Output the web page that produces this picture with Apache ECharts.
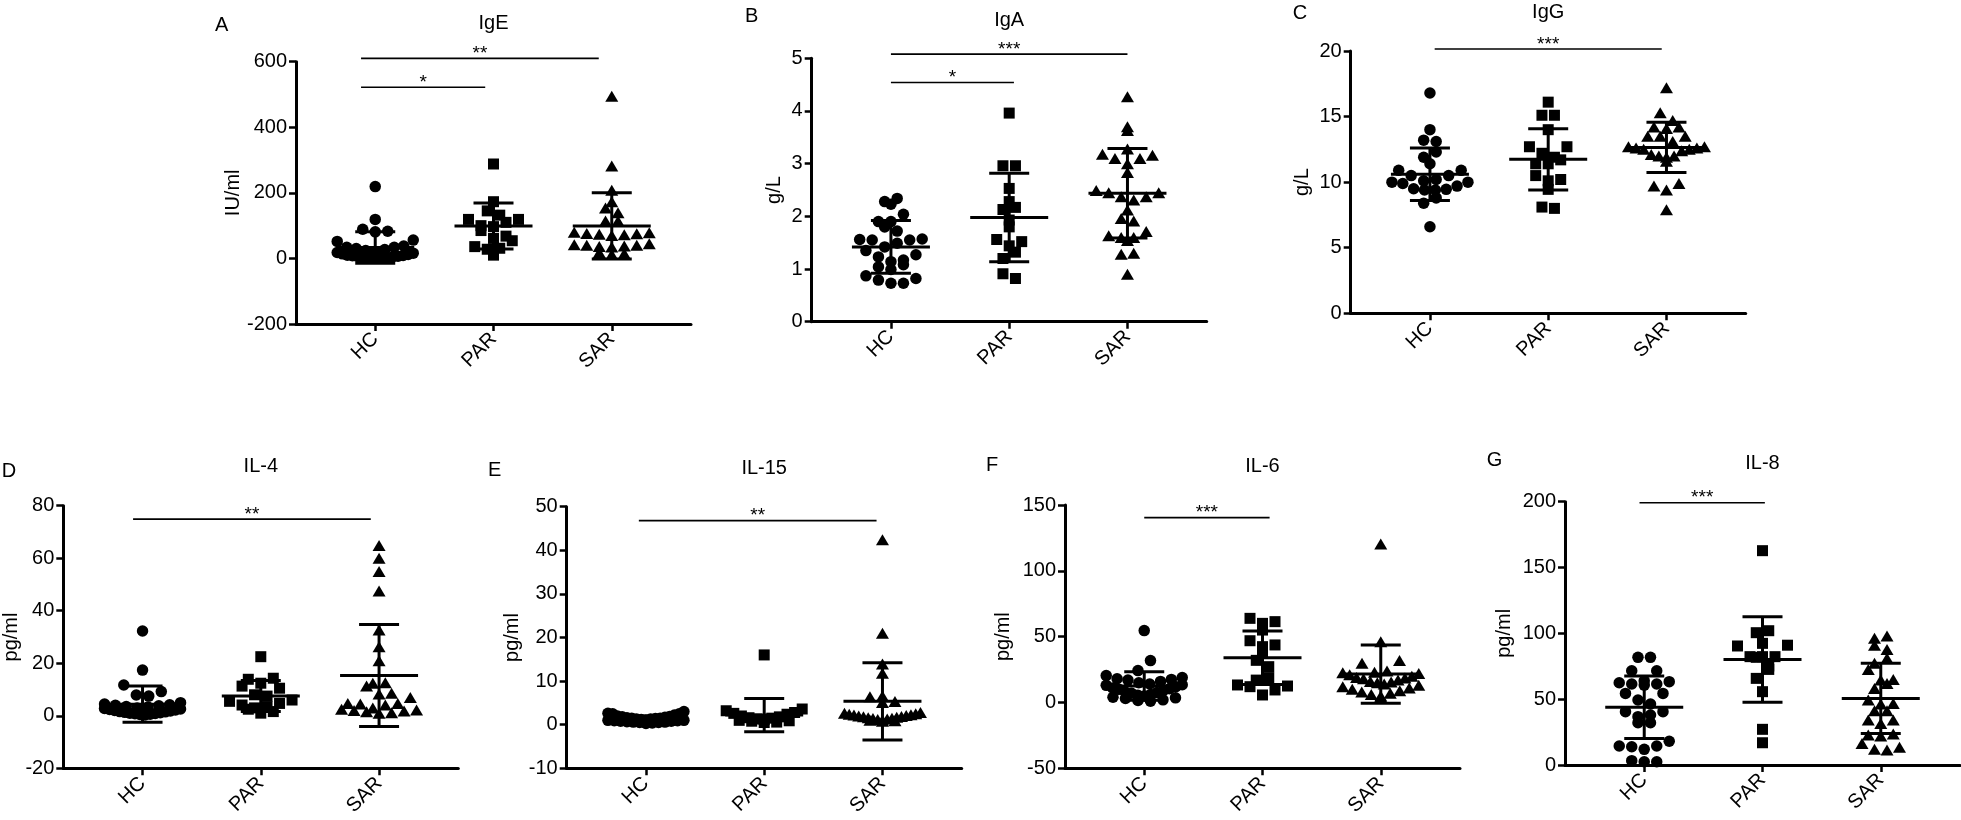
<!DOCTYPE html>
<html>
<head>
<meta charset="utf-8">
<title>Serum immunoglobulins and cytokines</title>
<script src="https://cdn.jsdelivr.net/npm/echarts@6/dist/echarts.min.js"></script>
<style>
  html, body { margin: 0; padding: 0; background: #fff; }
  #chart { width: 1961px; height: 820px; }
</style>
</head>
<body>
<div id="chart"></div>
<script>
// values
const groups = ["HC", "PAR", "SAR"];

const igeHC = [219, 119, 89, 83, 81, 56, 52, 34, 38, 34, 30, 27, 24, 21, 18, 16, 14, 12, 10, 9, 8, 7, 6, 5, 4, 3, 3, 2, 1, 1];
const igePAR = [288, 173, 145, 132, 119, 119, 110, 100, 97, 85, 68, 61, 54, 36, 31, 28, 10];
const igeSAR = [495, 282, 208, 173, 154, 139, 114, 114, 80, 78, 76, 75, 74, 72, 70, 45, 42, 40, 40, 38, 36, 35, 18, 15, 12];
const igeMean = [33, 99, 99];
const igeSD = [48, 70, 101];
const igeSig = [[0.88, 2.89, 610, "**"], [0.88, 1.93, 522, "*"]];

const igaHC = [2.34, 2.28, 2.23, 2.04, 1.90, 1.90, 1.80, 1.72, 1.57, 1.56, 1.55, 1.55, 1.49, 1.42, 1.35, 1.27, 1.23, 1.17, 1.14, 1.08, 1.04, 0.99, 0.87, 0.82, 0.79, 0.73, 0.73];
const igaPAR = [3.96, 2.96, 2.96, 2.53, 2.28, 2.17, 2.13, 1.93, 1.80, 1.56, 1.52, 1.44, 1.32, 1.20, 0.91, 0.82];
const igaSAR = [4.27, 3.70, 3.63, 3.28, 3.18, 3.16, 3.10, 3.10, 3.00, 2.83, 2.49, 2.45, 2.45, 2.37, 2.37, 2.31, 2.12, 1.96, 1.91, 1.71, 1.63, 1.60, 1.60, 1.54, 1.30, 1.28, 0.90];
const igaMean = [1.42, 1.98, 2.44];
const igaSD = [0.50, 0.84, 0.85];
const igaSig = [[1.0, 3.0, 5.08, "***"], [1.0, 2.04, 4.54, "*"]];

const iggHC = [16.8, 14.0, 13.2, 13.1, 12.3, 11.9, 11.4, 10.9, 10.9, 10.5, 10.5, 10.2, 10.1, 10.0, 10.0, 9.9, 9.7, 9.5, 9.45, 9.4, 9.4, 8.8, 8.4, 6.6];
const iggPAR = [16.1, 15.1, 15.1, 14.0, 12.7, 12.7, 12.2, 11.9, 11.7, 11.4, 11.4, 10.5, 10.2, 10.1, 9.45, 8.1, 8.0];
const iggSAR = [17.2, 15.3, 14.7, 14.2, 14.2, 14.1, 13.5, 13.5, 13.5, 13.1, 12.7, 12.7, 12.6, 12.6, 12.5, 12.5, 12.4, 12.1, 12.0, 12.0, 11.9, 11.6, 9.9, 9.7, 9.4, 7.9];
const iggMean = [10.6, 11.74, 12.65];
const iggSD = [2.0, 2.34, 1.92];
const iggSig = [[1.04, 2.96, 20.15, "***"]];

const il4HC = [32.3, 17.4, 11.7, 9.2, 7.9, 7.5, 5, 4.5, 4.2, 4, 3.8, 3.5, 3.3, 3, 2.8, 2.6, 2.4, 2.2, 2, 1.8, 1.6, 1.5, 1.3, 1.2, 1, 0.9, 0.8, 0.6, 0.5, 0.3];
const il4PAR = [22.5, 14.3, 13.9, 12.4, 11.3, 10.5, 8, 7.5, 6, 5.5, 4.7, 4.1, 3.5, 3, 2.5, 1.6, 1.0];
const il4SAR = [64.8, 60, 54.9, 47.5, 32.7, 26.3, 21, 12.6, 12.4, 11.3, 8.6, 8.3, 7, 4.7, 4.7, 4.5, 4.1, 3, 2.5, 2.2, 2, 1.8, 1.5, 1.2, 1];
const il4Mean = [4.4, 7.5, 15.35];
const il4SD = [6.9, 5.9, 19.45];
const il4Sig = [[0.92, 2.93, 74.9, "**"]];

const il15HC = [3.0, 2.6, 2.5, 2.5, 2.2, 2.0, 1.9, 1.8, 1.7, 1.6, 1.5, 1.5, 1.4, 1.3, 1.3, 1.2, 1.1, 1.0, 1.0, 0.9, 0.9, 0.8, 0.8, 0.7, 0.6, 0.6, 0.5, 0.5, 0.4, 0.3];
const il15PAR = [16.0, 3.6, 3.2, 2.8, 2.6, 2.4, 2.0, 1.8, 1.6, 1.5, 1.3, 1.2, 1.0, 0.9, 0.8, 0.6, 0.5];
const il15SAR = [42.4, 21.0, 13.9, 11.8, 6.6, 6.4, 5.3, 5.1, 2.8, 2.6, 2.5, 2.4, 2.3, 2.2, 2.1, 2.0, 1.9, 1.8, 1.7, 1.6, 1.5, 1.4, 1.3, 1.2, 1.1, 1.0, 0.9, 0.8];
const il15Mean = [1.3, 2.2, 5.35];
const il15SD = [0.7, 3.8, 8.85];
const il15Sig = [[0.94, 2.95, 46.8, "**"]];

const il6HC = [54.6, 31.8, 24.2, 20.4, 19, 18, 17.5, 17, 16, 15, 14, 13.5, 13, 12, 11, 10.5, 10, 9, 8, 7.5, 7, 6, 5.5, 5, 4, 3.5, 3, 2, 1.5, 1];
const il6PAR = [63.9, 61.4, 60.1, 55, 46.9, 43.7, 42.4, 37.3, 32, 27.2, 18.9, 17, 13.3, 12.5, 12.0, 9.5, 5.7];
const il6SAR = [120.4, 46.2, 31.8, 29.7, 24, 23, 22.5, 22, 21, 20, 19, 18.5, 18, 17, 16, 15.5, 15, 14, 13, 12, 11, 10, 9, 8, 7, 6, 5, 4];
const il6Mean = [12.5, 34.0, 21.55];
const il6SD = [10.9, 20.3, 22.15];
const il6Sig = [[1.0, 2.06, 140.4, "***"]];

const il8HC = [81.8, 81.8, 71.6, 71.6, 64, 63.3, 62.5, 61.5, 61.5, 60.7, 54.4, 54.4, 49.4, 46.3, 40.5, 40.5, 38, 36.7, 32.1, 32.1, 18, 14.4, 14.4, 13.9, 11.9, 3.3, 2.5, 2.5];
const il8PAR = [162.8, 102, 100.5, 92.4, 91, 90.4, 82.3, 82.3, 82.3, 81.8, 75.2, 72.6, 65.8, 55.7, 27.1, 16.9];
const il8SAR = [98, 96.2, 91, 87.8, 81, 77.2, 72.6, 65, 64.5, 62, 58.2, 49.4, 46.8, 46.3, 41.3, 41.3, 34.2, 34.2, 31.6, 23.5, 22.8, 22, 16.4, 13.4, 11.9, 11.4];
const il8Mean = [43.9, 80.1, 50.6];
const il8SD = [23.7, 32.5, 26.6];
const il8Sig = [[0.96, 2.02, 199.2, "***"]];

const panels = [
  { letter: "A", title: "IgE", unit: "IU/ml", sets: [igeHC, igePAR, igeSAR], mean: igeMean, sd: igeSD, sig: igeSig, yMin: -200, yMax: 600, yStep: 200 },
  { letter: "B", title: "IgA", unit: "g/L", sets: [igaHC, igaPAR, igaSAR], mean: igaMean, sd: igaSD, sig: igaSig, yMin: 0, yMax: 5, yStep: 1 },
  { letter: "C", title: "IgG", unit: "g/L", sets: [iggHC, iggPAR, iggSAR], mean: iggMean, sd: iggSD, sig: iggSig, yMin: 0, yMax: 20, yStep: 5 },
  { letter: "D", title: "IL-4", unit: "pg/ml", sets: [il4HC, il4PAR, il4SAR], mean: il4Mean, sd: il4SD, sig: il4Sig, yMin: -20, yMax: 80, yStep: 20 },
  { letter: "E", title: "IL-15", unit: "pg/ml", sets: [il15HC, il15PAR, il15SAR], mean: il15Mean, sd: il15SD, sig: il15Sig, yMin: -10, yMax: 50, yStep: 10 },
  { letter: "F", title: "IL-6", unit: "pg/ml", sets: [il6HC, il6PAR, il6SAR], mean: il6Mean, sd: il6SD, sig: il6Sig, yMin: -50, yMax: 150, yStep: 50 },
  { letter: "G", title: "IL-8", unit: "pg/ml", sets: [il8HC, il8PAR, il8SAR], mean: il8Mean, sd: il8SD, sig: il8Sig, yMin: 0, yMax: 200, yStep: 50 },
];

// panel placement on the 1961x820 page
const layout = [
  { left: 296, top: 61.7, height: 262.3, nameGap: 52, letterX: 215, letterY: 25, titleY: 23.7 },
  { left: 811.7, top: 58.3, height: 263.4, nameGap: 27, letterX: 745, letterY: 16.7, titleY: 20.7 },
  { left: 1350.7, top: 51, height: 262.3, nameGap: 38, letterX: 1292.7, letterY: 13.3, titleY: 12 },
  { left: 63.3, top: 505.7, height: 262.6, nameGap: 42, letterX: 1.7, letterY: 471.7, titleY: 466.7 },
  { left: 566.7, top: 506.7, height: 261.6, nameGap: 44.5, letterX: 488, letterY: 470, titleY: 468.3 },
  { left: 1065, top: 505, height: 263.3, nameGap: 51.5, letterX: 986, letterY: 465, titleY: 466.7 },
  { left: 1565, top: 501.7, height: 263.3, nameGap: 50.5, letterX: 1486.7, letterY: 460, titleY: 463.7 },
];

const GRID_W = 395;
const X_MIN = 0.33, X_MAX = 3.67;
const FONT = "'Liberation Sans', Arial, sans-serif";
const FS = 20;
const symbols = ["circle", "rect", "triangle"];
const symbolSizes = [11.5, 11, [13, 11]];

// Prism-like scatter: values binned into rows, each row spread
// outward from the centre, lowest values in the middle.
function spread(values, center, pxPerY, pxPerX, yMin) {
  const binH = 12, step = 12.5, maxHalf = 38;
  const bins = {};
  values.forEach((v) => {
    const b = Math.floor(((v - yMin) * pxPerY) / binH);
    (bins[b] = bins[b] || []).push(v);
  });
  const out = [];
  Object.keys(bins).forEach((k, bi) => {
    const row = bins[k].slice().sort((a, b) => a - b);
    const n = row.length;
    const gap = n > 1 ? Math.min(step, (2 * maxHalf) / (n - 1)) : 0;
    const sign = bi % 2 ? -1 : 1;
    row.forEach((v, i) => {
      let slot;
      if (n % 2) slot = i === 0 ? 0 : Math.ceil(i / 2) * (i % 2 ? 1 : -1);
      else slot = (Math.floor(i / 2) + 0.5) * (i % 2 ? -1 : 1);
      out.push([center + (sign * slot * gap) / pxPerX, v]);
    });
  });
  return out;
}

const grid = [], xAxis = [], yAxis = [], series = [], graphic = [];

panels.forEach((p, idx) => {
  const L = layout[idx];
  grid.push({ left: L.left, top: L.top, width: GRID_W, height: L.height });
  xAxis.push({
    type: "value", gridIndex: idx, min: X_MIN, max: X_MAX,
    splitLine: { show: false },
    axisLine: { onZero: false, lineStyle: { color: "#000", width: 3 } },
    axisTick: { customValues: [1, 2, 3], length: 7, lineStyle: { color: "#000", width: 2.5 } },
    axisLabel: {
      customValues: [1, 2, 3], rotate: 45, margin: 12,
      formatter: (v) => groups[Math.round(v) - 1],
      color: "#000", fontSize: FS, fontFamily: FONT,
    },
  });
  yAxis.push({
    type: "value", gridIndex: idx, min: p.yMin, max: p.yMax, interval: p.yStep,
    name: p.unit, nameLocation: "middle", nameRotate: 90, nameGap: L.nameGap,
    nameTextStyle: { color: "#000", fontSize: FS, fontFamily: FONT },
    splitLine: { show: false },
    axisLine: { onZero: false, lineStyle: { color: "#000", width: 3 } },
    axisTick: { length: 7, lineStyle: { color: "#000", width: 2.5 } },
    axisLabel: { margin: 9, color: "#000", fontSize: FS, fontFamily: FONT },
  });

  const pxPerY = L.height / (p.yMax - p.yMin);
  const pxPerX = GRID_W / (X_MAX - X_MIN);

  p.sets.forEach((vals, g) => {
    series.push({
      type: "scatter", xAxisIndex: idx, yAxisIndex: idx,
      symbol: symbols[g], symbolSize: symbolSizes[g],
      itemStyle: { color: "#000", opacity: 1 },
      data: spread(vals, g + 1, pxPerY, pxPerX, p.yMin),
      silent: true, z: 2,
    });
  });

  // mean with SD whiskers
  series.push({
    type: "custom", xAxisIndex: idx, yAxisIndex: idx, silent: true, z: 3,
    data: p.mean.map((m, g) => [g + 1, m, p.sd[g]]),
    renderItem: (params, api) => {
      const x = api.value(0), m = api.value(1), s = api.value(2);
      const c = api.coord([x, m]);
      const t = api.coord([x, m + s]);
      const b = api.coord([x, m - s]);
      const st = { stroke: "#000", lineWidth: 3 };
      return {
        type: "group",
        children: [
          { type: "line", shape: { x1: c[0] - 39, y1: c[1], x2: c[0] + 39, y2: c[1] }, style: st },
          { type: "line", shape: { x1: t[0] - 20, y1: t[1], x2: t[0] + 20, y2: t[1] }, style: st },
          { type: "line", shape: { x1: b[0] - 20, y1: b[1], x2: b[0] + 20, y2: b[1] }, style: st },
          { type: "line", shape: { x1: c[0], y1: t[1], x2: c[0], y2: b[1] }, style: st },
        ],
      };
    },
  });

  // significance brackets
  series.push({
    type: "custom", xAxisIndex: idx, yAxisIndex: idx, silent: true, clip: false, z: 3,
    data: p.sig.map((s) => [s[0], s[2], s[1]]),
    renderItem: (params, api) => {
      const s = p.sig[params.dataIndex];
      const a = api.coord([s[0], s[2]]);
      const b = api.coord([s[1], s[2]]);
      return {
        type: "group",
        children: [
          { type: "line", shape: { x1: a[0], y1: a[1], x2: b[0], y2: b[1] }, style: { stroke: "#000", lineWidth: 1.6 } },
          {
            type: "text", x: (a[0] + b[0]) / 2, y: a[1] + 5,
            style: { text: s[3], fill: "#000", font: "19px " + FONT, textAlign: "center", textVerticalAlign: "bottom" },
          },
        ],
      };
    },
  });

  graphic.push({
    type: "text", left: L.letterX, top: L.letterY - 10,
    style: { text: p.letter, fill: "#000", font: FS + "px " + FONT },
  });
  graphic.push({
    type: "text", x: L.left + GRID_W / 2, y: L.titleY,
    style: { text: p.title, fill: "#000", font: FS + "px " + FONT, textAlign: "center", textVerticalAlign: "middle" },
  });
});

const chart = echarts.init(document.getElementById("chart"), null, { renderer: "canvas" });
chart.setOption({
  backgroundColor: "#fff",
  animation: false,
  grid, xAxis, yAxis, series, graphic,
});
</script>
</body>
</html>
